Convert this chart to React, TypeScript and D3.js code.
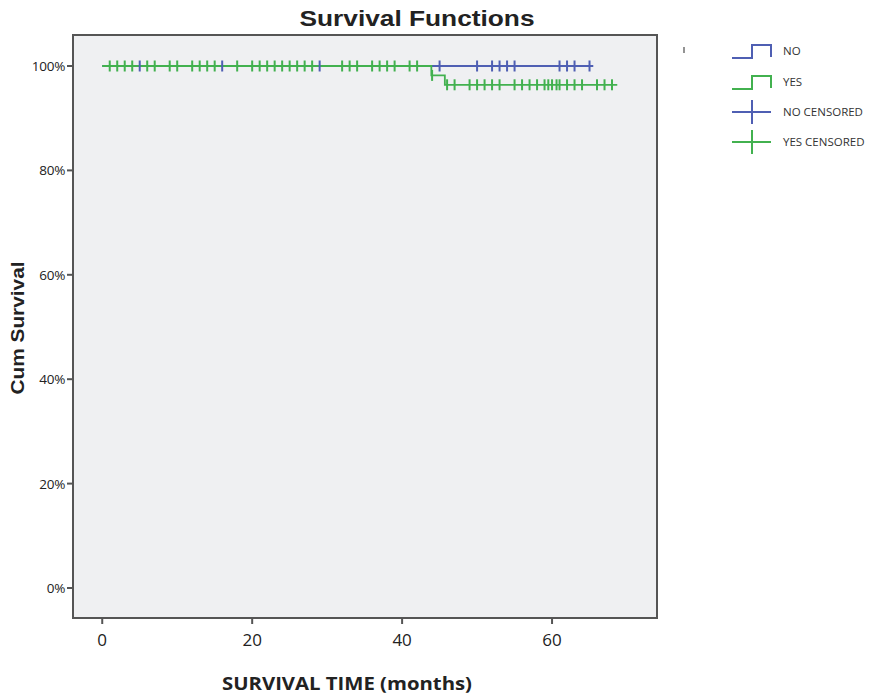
import React from 'react';
import * as d3 from 'd3';

// Kaplan-Meier curves (months, cum survival %)
const noSteps = [{ t: 0, s: 100 }];
const noEnd = 65.5;
const noCensored = [5, 16, 29, 45, 50, 52, 53, 54, 55, 61, 62, 63, 65];

const yesSteps = [
  { t: 0, s: 100 },
  { t: 43.9, s: 98.2 },
  { t: 45.7, s: 96.4 },
];
const yesEnd = 68.7;
const yesCensored = [
  1, 2, 3, 4, 6, 7, 9, 10, 12, 13, 14, 15, 18, 20, 21, 22, 23, 24, 25, 26, 27, 28,
  32, 33, 34, 36, 37, 38, 39, 41, 42, 44,
  46, 47, 49, 50, 51, 52, 53, 55, 56, 57, 58, 59, 59.5, 60, 60.6, 61, 62, 63, 64, 66, 67, 68,
];

const xTicks = [0, 20, 40, 60];
const yTicks = [0, 20, 40, 60, 80, 100];

const legendItems = [
  { label: 'NO', color: '#4f5fb3', kind: 'step' },
  { label: 'YES', color: '#42b14f', kind: 'step' },
  { label: 'NO CENSORED', color: '#4f5fb3', kind: 'cross' },
  { label: 'YES CENSORED', color: '#42b14f', kind: 'cross' },
];

const BLUE = '#4f5fb3';
const GREEN = '#42b14f';

const frame = { left: 73, top: 35, right: 657, bottom: 618 };

const x = d3.scaleLinear().domain([-3.9, 74]).range([frame.left, frame.right]);
const y = d3.scaleLinear().domain([0, 100]).range([588, 66]);

const survAt = (steps, t) => {
  let s = steps[0].s;
  steps.forEach((d) => {
    if (d.t <= t) s = d.s;
  });
  return s;
};

const stepPath = (steps, end) => {
  const pts = steps.map((d) => [d.t, d.s]);
  pts.push([end, steps[steps.length - 1].s]);
  const line = d3.line().x((d) => x(d[0])).y((d) => y(d[1])).curve(d3.curveStepAfter);
  return line(pts);
};

const Censors = ({ times, steps, color }) => (
  <g stroke={color} strokeWidth={2}>
    {times.map((t, i) => (
      <line key={i} x1={x(t)} x2={x(t)} y1={y(survAt(steps, t)) - 5.5} y2={y(survAt(steps, t)) + 5.5} />
    ))}
  </g>
);

const App = () => {
  const tickFont = '"Open Sans", "Noto Sans", sans-serif';
  const arial = "'Liberation Sans', Arial, sans-serif";
  return (
    <svg width={870} height={696} style={{ position: 'absolute', left: 0, top: 0, background: '#fff' }}>
      <text x={417} y={26} textAnchor="middle" fontFamily={arial} fontWeight="bold" fontSize={22} fill="#222"
        textLength={235} lengthAdjust="spacingAndGlyphs">
        Survival Functions
      </text>

      <rect x={frame.left} y={frame.top} width={frame.right - frame.left} height={frame.bottom - frame.top}
        fill="#eff0f2" stroke="#555" strokeWidth={2} />

      {yTicks.map((v) => (
        <g key={v}>
          <line x1={frame.left - 6} x2={frame.left} y1={y(v)} y2={y(v)} stroke="#555" strokeWidth={2} />
          <text x={65} y={y(v) + 5} textAnchor="end" fontFamily={tickFont} fontSize={13.5} fill="#222"
            letterSpacing={-0.3}>{v}%</text>
        </g>
      ))}
      {xTicks.map((v) => (
        <g key={v}>
          <line x1={x(v)} x2={x(v)} y1={frame.bottom} y2={frame.bottom + 6} stroke="#555" strokeWidth={2} />
          <text x={x(v)} y={646} textAnchor="middle" fontFamily={tickFont} fontSize={17} fill="#222">{v}</text>
        </g>
      ))}

      <text transform="translate(24,328) rotate(-90)" textAnchor="middle" fontFamily={arial}
        fontWeight="bold" fontSize={18} fill="#222" textLength={133} lengthAdjust="spacingAndGlyphs">Cum Survival</text>
      <text x={347} y={690} textAnchor="middle" fontFamily={tickFont} fontWeight="bold" fontSize={18} fill="#222"
        textLength={250} lengthAdjust="spacingAndGlyphs">SURVIVAL TIME (months)</text>

      <path d={stepPath(noSteps, noEnd)} fill="none" stroke={BLUE} strokeWidth={1.8} />
      <path d={stepPath(yesSteps, yesEnd)} fill="none" stroke={GREEN} strokeWidth={1.8} />
      <Censors times={yesCensored} steps={yesSteps} color={GREEN} />
      <Censors times={noCensored} steps={noSteps} color={BLUE} />

      <line x1={684} x2={684} y1={47} y2={53} stroke="#666" strokeWidth={1.4} />
      {legendItems.map((d, i) => {
        const cy = [51, 82, 112, 142][i];
        return (
          <g key={d.label}>
            {d.kind === 'step' ? (
              <path d={`M732,${cy + 7}H752V${cy - 6}H771V${cy + 6}`} fill="none" stroke={d.color} strokeWidth={2} />
            ) : (
              <g stroke={d.color} strokeWidth={2}>
                <line x1={732} x2={771} y1={cy} y2={cy} />
                <line x1={752} x2={752} y1={cy - 12} y2={cy + 12} />
              </g>
            )}
            <text x={783} y={cy + 4} fontFamily={tickFont} fontSize={11.5} fill="#333">{d.label}</text>
          </g>
        );
      })}
    </svg>
  );
};

export default App;
